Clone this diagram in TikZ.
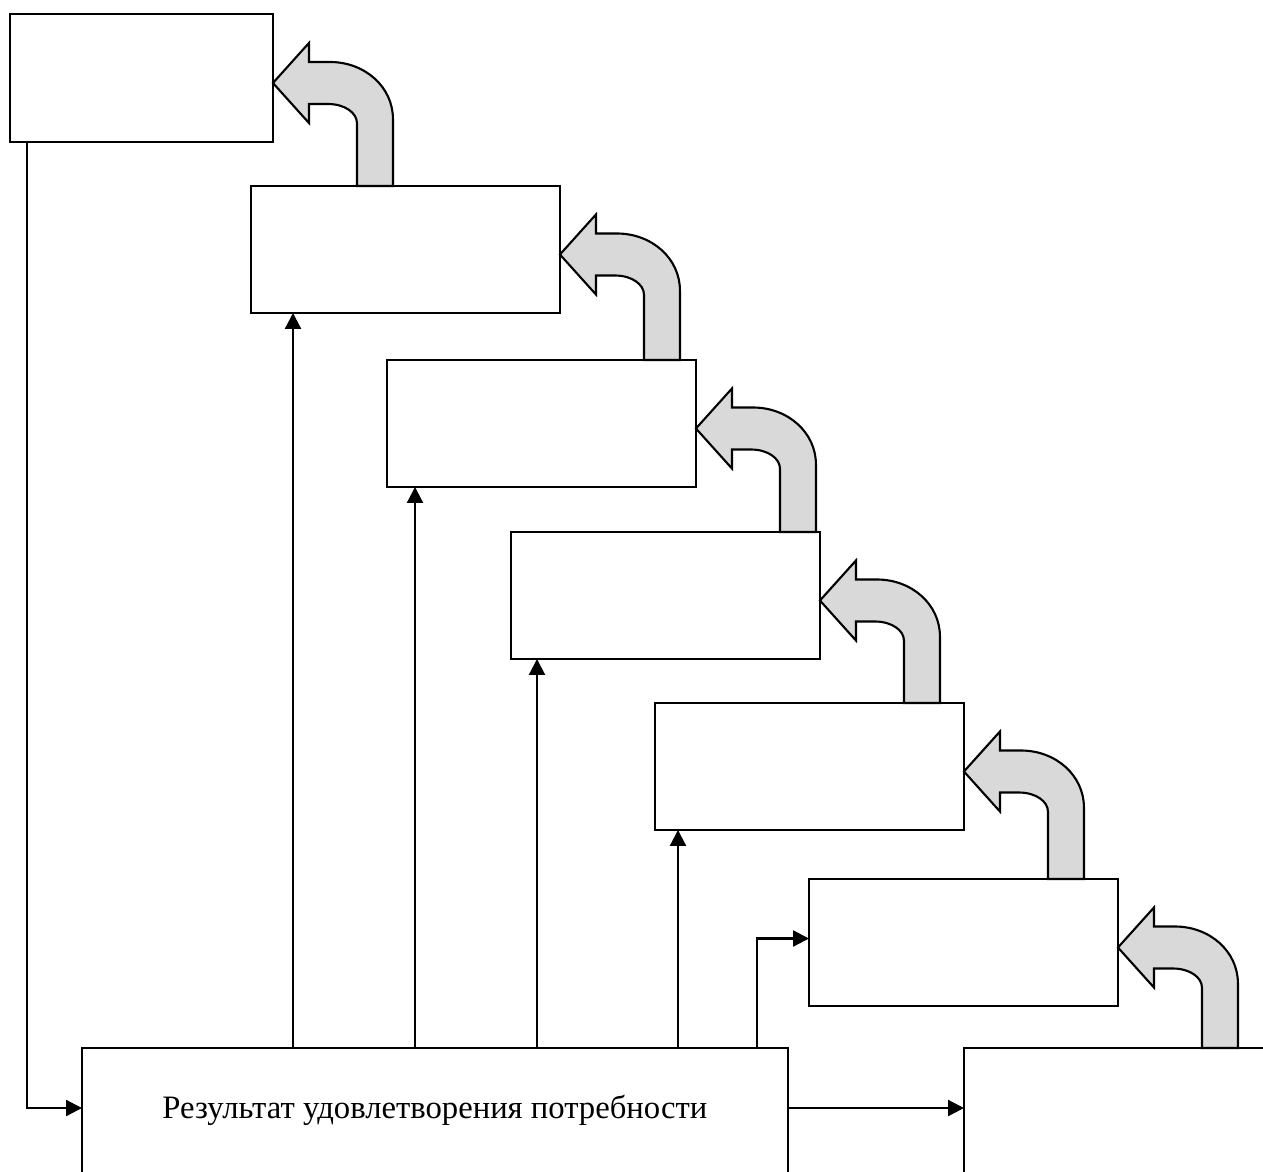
\documentclass[tikz,border=0pt]{standalone}
\usepackage{fontspec}
\setmainfont{Liberation Serif}
\usepackage{tikz}
\usetikzlibrary{arrows.meta,calc}
\usepackage{xcolor}
\definecolor{bentgray}{RGB}{217,217,217}
\tikzstyle{block} = [draw, line width=1.3pt, inner sep=0pt, outer sep=0pt, anchor=north west, minimum width=6.18cm, minimum height=2.54cm]
\tikzstyle{conn} = [line width=1.3pt, -{Triangle[length=0.32cm,width=0.32cm]}]
\tikzstyle{bentarr} = [draw, line width=1.2pt, fill=bentgray]
% curved block arrow: from top of #2 to right side of #1
\newcommand{\bentarrow}[2]{%
  \begin{scope}[shift={($(#1.east)+(0,5)$)}]
    \draw[bentarr] (0,0) -- (36,-40) -- (36,-21) -- (57,-21)
      .. controls (92,-21) and (120,4) .. (120,36) -- (120,0 |- #2.north)
      -- (84,0 |- #2.north) -- (84,40)
      .. controls (84,30) and (72,21) .. (55,21) -- (36,21) -- (36,40) -- cycle;
  \end{scope}}

\begin{document}
\begin{tikzpicture}[x=0.02cm, y=-0.02cm]
\path[use as bounding box, clip] (0,0) rectangle (1263,1171);

% Boxes
\node[block, minimum width=5.26cm, minimum height=2.56cm] (b1) at (10,14) {};
\node[block] (b2) at (251,186) {};
\node[block] (b3) at (387,360) {};
\node[block] (b4) at (511,532) {};
\node[block] (b5) at (655,703) {};
\node[block] (b6) at (809,879) {};
\node[block, minimum width=14.12cm, minimum height=2.5cm, font=\fontsize{18.6}{22}\selectfont] (res) at (82,1048) {Результат удовлетворения потребности};
\node[block, minimum width=8cm, minimum height=2.5cm] (out) at (964,1048) {};

% Connectors
\draw[conn] (b1.south -| 27,0) |- ($(res.north west)+(0,60)$);
\foreach \b/\x in {b2/293, b3/415, b4/537, b5/678}
  \draw[conn] (res.north -| \x,0) -- (\b.south -| \x,0);
\draw[conn] (res.north -| 757,0) |- ($(b6.west)+(0,-4)$);
\draw[conn] ($(res.north east)+(0,60)$) -- ($(out.north west)+(0,60)$);

% Curved arrows
\bentarrow{b1}{b2}
\bentarrow{b2}{b3}
\bentarrow{b3}{b4}
\bentarrow{b4}{b5}
\bentarrow{b5}{b6}
\bentarrow{b6}{out}
\end{tikzpicture}
\end{document}
